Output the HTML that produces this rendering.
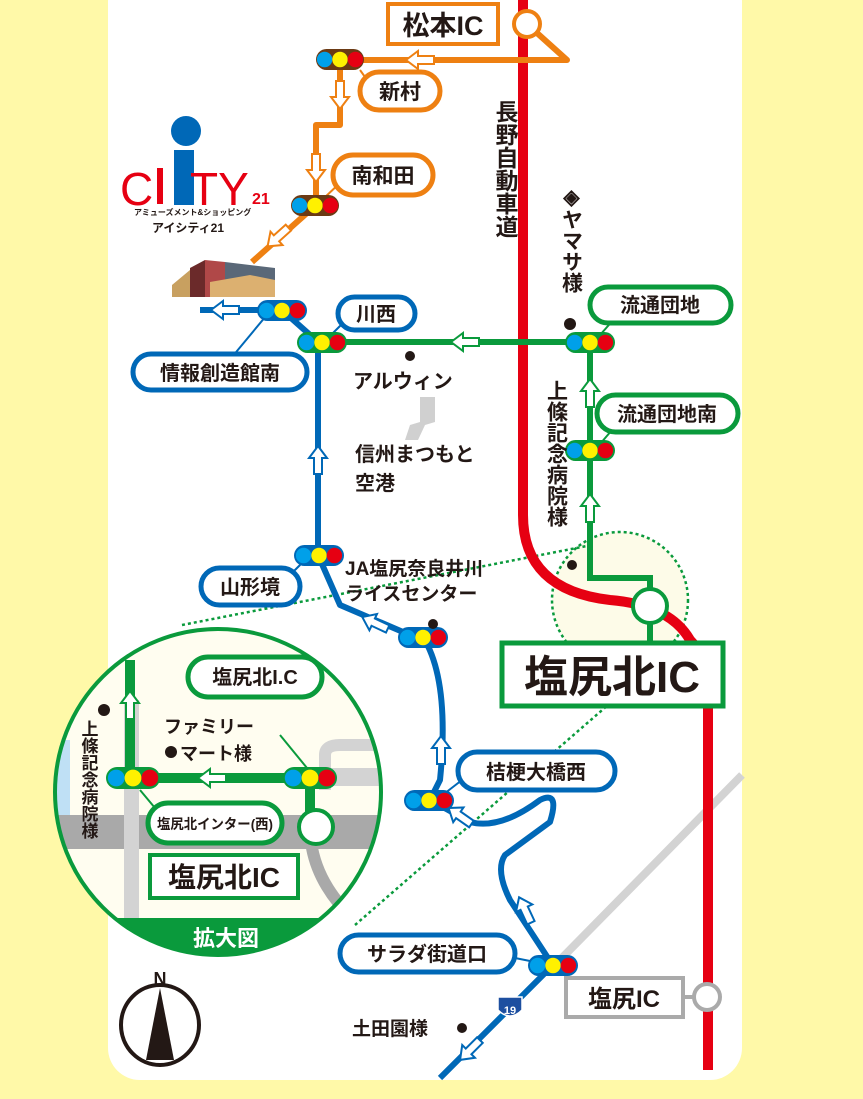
<!DOCTYPE html>
<html><head><meta charset="utf-8"><style>
html,body{margin:0;padding:0;background:#fff9a8;}
svg{display:block;}
text{font-family:"Liberation Sans","Noto Sans CJK JP",sans-serif;font-weight:bold;fill:#231815;}
</style></head><body>
<svg width="863" height="1099" viewBox="0 0 863 1099" xmlns="http://www.w3.org/2000/svg">
<defs>
<g id="sig"><circle cx="-14" cy="0" r="7" fill="#00a0e9"/><circle cx="0" cy="0" r="7" fill="#fff100"/><circle cx="14" cy="0" r="7" fill="#e60012"/></g>
<g id="arrL"><polygon points="-14,0 -2,-9 -2,-4 14,-4 14,4 -2,4 -2,9" fill="#fff" stroke-width="2"/></g>
</defs>
<rect x="0" y="0" width="863" height="1099" fill="#fff9a8"/>
<rect x="108" y="-30" width="634" height="1110" rx="32" fill="#fff"/>

<line x1="742" y1="775" x2="552" y2="968" stroke="#d3d3d3" stroke-width="8"/>

<circle cx="620" cy="600" r="68" fill="#fdfbe8" stroke="#0a9a3c" stroke-width="2.5" stroke-dasharray="3,3"/>
<line x1="182" y1="625" x2="592" y2="545" stroke="#0a9a3c" stroke-width="2.5" stroke-dasharray="3,3"/>
<line x1="355" y1="925" x2="608" y2="705" stroke="#0a9a3c" stroke-width="2.5" stroke-dasharray="3,3"/>

<path d="M523,0 L523,515 Q523,590 610,600 Q670,605 690,640 L708,660 L708,1070" fill="none" stroke="#e60012" stroke-width="10"/>

<g stroke="#ee8012" stroke-width="6" fill="none" stroke-linejoin="round">
<path d="M527,24 L567,60 L326,60"/>
<path d="M340,66 L340,125 L316,125 L316,205 L252,262"/>
<line x1="360" y1="70" x2="370" y2="84" stroke-width="2"/>
<line x1="322" y1="200" x2="343" y2="180" stroke-width="2"/>
</g>
<circle cx="527" cy="24" r="13" fill="#fff" stroke="#ee8012" stroke-width="4"/>
<use href="#arrL" transform="translate(420,60)" stroke="#ee8012"/>
<use href="#arrL" transform="translate(340,95) rotate(-90)" stroke="#ee8012"/>
<use href="#arrL" transform="translate(316,168) rotate(-90)" stroke="#ee8012"/>
<use href="#arrL" transform="translate(278,237) rotate(-42)" stroke="#ee8012"/>
<rect x="316" y="49" width="48" height="21" rx="10.5" fill="#6b3a14"/><use href="#sig" transform="translate(340,59.5) scale(1.1)"/>
<rect x="291" y="195" width="48" height="21" rx="10.5" fill="#6b3a14"/><use href="#sig" transform="translate(315,205.5) scale(1.1)"/>

<rect x="388" y="4" width="110" height="40" fill="#fff" stroke="#ee8012" stroke-width="4"/>
<text x="443" y="35" font-size="27" text-anchor="middle">松本IC</text>
<rect x="360" y="72" width="80" height="38" rx="19" fill="#fff" stroke="#ee8012" stroke-width="5"/>
<text x="400" y="99" font-size="21" text-anchor="middle">新村</text>
<rect x="333" y="155" width="100" height="40" rx="20" fill="#fff" stroke="#ee8012" stroke-width="5"/>
<text x="383" y="183" font-size="21" text-anchor="middle">南和田</text>

<circle cx="186" cy="131" r="15" fill="#0068b7"/>
<text x="120" y="205" font-size="46" style="fill:#e60012;font-weight:normal" textLength="30">C</text>
<rect x="157" y="168" width="6" height="36" fill="#e60012"/>
<rect x="174" y="150" width="20" height="55" fill="#0068b7"/>
<text x="190" y="205" font-size="46" style="fill:#e60012;font-weight:normal">TY</text>
<text x="252" y="204" font-size="16" style="fill:#e60012">21</text>
<text x="134" y="215" font-size="8">アミューズメント&amp;ショッピング</text>
<text x="152" y="232" font-size="12">アイシティ21</text>
<polygon points="172,285 190,270 200,270 200,297 172,297" fill="#c8a060"/>
<polygon points="190,268 205,260 210,297 190,297" fill="#6b2a2a"/>
<polygon points="205,260 225,262 225,297 205,297" fill="#b04848"/>
<polygon points="225,262 275,268 275,280 225,282" fill="#5a6878"/>
<polygon points="210,282 250,275 275,280 275,297 210,297" fill="#dcb070"/>

<g stroke="#0068b7" stroke-width="6" fill="none" stroke-linejoin="round">
<path d="M200,310 L282,310 L318,342 L318,555 L340,605 L410,635 L423,637 Q450,680 440,780 L430,800 L470,822 Q500,830 540,800 Q560,790 550,822 L505,855 Q495,870 510,900 L548,958 L553,965 L440,1078"/>
<line x1="266" y1="316" x2="232" y2="357" stroke-width="2"/>
<line x1="330" y1="336" x2="348" y2="318" stroke-width="2"/>
<line x1="305" y1="560" x2="290" y2="575" stroke-width="2"/>
<line x1="440" y1="797" x2="462" y2="780" stroke-width="2"/>
<line x1="515" y1="958" x2="540" y2="963" stroke-width="2"/>
</g>
<use href="#arrL" transform="translate(225,310)" stroke="#0068b7"/>
<use href="#arrL" transform="translate(318,460) rotate(90)" stroke="#0068b7"/>
<use href="#arrL" transform="translate(375,623) rotate(25)" stroke="#0068b7"/>
<use href="#arrL" transform="translate(441,750) rotate(90)" stroke="#0068b7"/>
<use href="#arrL" transform="translate(460,816) rotate(35)" stroke="#0068b7"/>
<use href="#arrL" transform="translate(525,910) rotate(65)" stroke="#0068b7"/>
<use href="#arrL" transform="translate(470,1050) rotate(-45)" stroke="#0068b7"/>
<rect x="257" y="300" width="50" height="21" rx="10.5" fill="#0068b7"/><use href="#sig" transform="translate(282,310.5) scale(1.1)"/>
<rect x="294" y="545" width="50" height="21" rx="10.5" fill="#0068b7"/><use href="#sig" transform="translate(319,555.5) scale(1.1)"/>
<rect x="398" y="627" width="50" height="21" rx="10.5" fill="#0068b7"/><use href="#sig" transform="translate(423,637.5) scale(1.1)"/>
<rect x="404" y="790" width="50" height="21" rx="10.5" fill="#0068b7"/><use href="#sig" transform="translate(429,800.5) scale(1.1)"/>
<rect x="528" y="955" width="50" height="21" rx="10.5" fill="#0068b7"/><use href="#sig" transform="translate(553,965.5) scale(1.1)"/>
<path d="M498,997 L522,997 L522,1010 Q510,1022 498,1010 Z" fill="#1d4fa0" stroke="#fff" stroke-width="1.5"/>
<text x="510" y="1014" font-size="11" text-anchor="middle" style="fill:#fff">19</text>

<g stroke="#0a9a3c" stroke-width="6" fill="none">
<path d="M322,342 L590,342 L590,578 L650,578 L650,590"/>
<line x1="650" y1="622" x2="650" y2="642"/>
<line x1="600" y1="335" x2="615" y2="318" stroke-width="2"/>
<line x1="600" y1="444" x2="612" y2="430" stroke-width="2"/>
</g>
<use href="#arrL" transform="translate(465,342)" stroke="#0a9a3c"/>
<use href="#arrL" transform="translate(590,393) rotate(90)" stroke="#0a9a3c"/>
<use href="#arrL" transform="translate(590,508) rotate(90)" stroke="#0a9a3c"/>
<circle cx="650" cy="606" r="17" fill="#fff" stroke="#0a9a3c" stroke-width="4"/>
<rect x="565" y="332" width="50" height="21" rx="10.5" fill="#0a9a3c"/><use href="#sig" transform="translate(590,342.5) scale(1.1)"/>
<rect x="297" y="332" width="50" height="21" rx="10.5" fill="#0a9a3c"/><use href="#sig" transform="translate(322,342.5) scale(1.1)"/>
<rect x="565" y="440" width="50" height="21" rx="10.5" fill="#0a9a3c"/><use href="#sig" transform="translate(590,450.5) scale(1.1)"/>

<rect x="338" y="297" width="77" height="33" rx="16.5" fill="#fff" stroke="#0068b7" stroke-width="5"/>
<text x="376" y="321" font-size="20" text-anchor="middle">川西</text>
<rect x="133" y="354" width="174" height="36" rx="18" fill="#fff" stroke="#0068b7" stroke-width="5"/>
<text x="220" y="380" font-size="20" text-anchor="middle">情報創造館南</text>
<rect x="201" y="568" width="99" height="37" rx="18.5" fill="#fff" stroke="#0068b7" stroke-width="5"/>
<text x="250" y="594" font-size="20" text-anchor="middle">山形境</text>
<rect x="458" y="752" width="157" height="38" rx="19" fill="#fff" stroke="#0068b7" stroke-width="5"/>
<text x="536" y="779" font-size="20" text-anchor="middle">桔梗大橋西</text>
<rect x="340" y="935" width="175" height="37" rx="18.5" fill="#fff" stroke="#0068b7" stroke-width="5"/>
<text x="427" y="961" font-size="20" text-anchor="middle">サラダ街道口</text>

<rect x="590" y="287" width="141" height="36" rx="18" fill="#fff" stroke="#0a9a3c" stroke-width="5"/>
<text x="660" y="312" font-size="20" text-anchor="middle">流通団地</text>
<rect x="597" y="395" width="141" height="37" rx="18.5" fill="#fff" stroke="#0a9a3c" stroke-width="5"/>
<text x="667" y="421" font-size="20" text-anchor="middle">流通団地南</text>
<rect x="502" y="643" width="221" height="63" fill="#fff" stroke="#0a9a3c" stroke-width="5"/>
<text x="612" y="692" font-size="44" text-anchor="middle">塩尻北IC</text>

<line x1="683" y1="997" x2="694" y2="997" stroke="#aaa" stroke-width="4"/>
<rect x="566" y="978" width="117" height="39" fill="#fff" stroke="#aaa" stroke-width="4"/>
<text x="624" y="1007" font-size="24" text-anchor="middle">塩尻IC</text>
<circle cx="707" cy="997" r="13" fill="#fff" stroke="#aaa" stroke-width="4"/>

<text font-size="23" writing-mode="tb" x="505" y="100">長野自動車道</text>
<text font-size="21" writing-mode="tb" x="571" y="185">◈ヤマサ様</text>
<circle cx="570" cy="324" r="6" fill="#231815"/>
<text font-size="21" writing-mode="tb" x="556" y="380">上條記念病院様</text>
<circle cx="572" cy="565" r="5" fill="#231815"/>

<circle cx="410" cy="356" r="5" fill="#231815"/>
<text x="353" y="388" font-size="20">アルウィン</text>
<polygon points="420,397 435,397 435,422 425,425 418,440 405,440 410,425 420,422" fill="#d0d0d0"/>
<text x="355" y="461" font-size="20">信州まつもと</text>
<text x="355" y="490" font-size="20">空港</text>
<text x="345" y="575" font-size="19">JA塩尻奈良井川</text>
<text x="345" y="600" font-size="19">ライスセンター</text>
<circle cx="433" cy="624" r="5" fill="#231815"/>
<text x="352" y="1035" font-size="19">土田園様</text>
<circle cx="462" cy="1028" r="5" fill="#231815"/>

<clipPath id="ic"><circle cx="218" cy="792" r="163"/></clipPath>
<g clip-path="url(#ic)">
<rect x="50" y="620" width="340" height="350" fill="#fffdf0"/>
<rect x="50" y="740" width="20" height="80" fill="#bfe0f5"/>
<rect x="50" y="815" width="340" height="34" fill="#a9a9a9"/>
<rect x="124" y="700" width="15" height="220" fill="#d3d3d3"/>
<path d="M325,790 L325,755 Q325,745 340,745 L390,745" fill="none" stroke="#d3d3d3" stroke-width="12"/>
<rect x="320" y="768" width="70" height="18" fill="#d3d3d3"/>
<path d="M312,848 Q320,890 360,925" fill="none" stroke="#a9a9a9" stroke-width="12"/>
<rect x="50" y="918" width="340" height="60" fill="#0a9a3c"/>
<g stroke="#0a9a3c" stroke-width="10" fill="none"><path d="M130,660 L130,778 L310,778 L310,812"/></g>
<line x1="280" y1="735" x2="307" y2="768" stroke="#0a9a3c" stroke-width="2"/>
<line x1="140" y1="790" x2="155" y2="808" stroke="#0a9a3c" stroke-width="2"/>
<use href="#arrL" transform="translate(130,705) rotate(90)" stroke="#0a9a3c"/>
<use href="#arrL" transform="translate(212,778)" stroke="#0a9a3c"/>
<rect x="106" y="767" width="54" height="22" rx="11" fill="#0a9a3c"/><use href="#sig" transform="translate(133,778) scale(1.2)"/>
<rect x="283" y="767" width="54" height="22" rx="11" fill="#0a9a3c"/><use href="#sig" transform="translate(310,778) scale(1.2)"/>
<circle cx="316" cy="827" r="17" fill="#fff" stroke="#0a9a3c" stroke-width="4"/>
<rect x="188" y="657" width="134" height="40" rx="20" fill="#fff" stroke="#0a9a3c" stroke-width="5"/>
<text x="255" y="684" font-size="20" text-anchor="middle">塩尻北I.C</text>
<rect x="148" y="803" width="134" height="40" rx="20" fill="#fff" stroke="#0a9a3c" stroke-width="5"/>
<text x="215" y="829" font-size="14" text-anchor="middle" textLength="116" lengthAdjust="spacingAndGlyphs">塩尻北インター(西)</text>
<rect x="150" y="855" width="148" height="43" fill="#fff" stroke="#0a9a3c" stroke-width="4"/>
<text x="224" y="887" font-size="28" text-anchor="middle">塩尻北IC</text>
<text x="164" y="733" font-size="18">ファミリー</text>
<circle cx="171" cy="752" r="6" fill="#231815"/>
<text x="180" y="760" font-size="18">マート様</text>
<circle cx="104" cy="710" r="6" fill="#231815"/>
<text font-size="17" writing-mode="tb" x="88" y="720">上條記念病院様</text>
<text x="226" y="946" font-size="22" text-anchor="middle" style="fill:#fff">拡大図</text>
</g>
<circle cx="218" cy="792" r="163" fill="none" stroke="#0a9a3c" stroke-width="4"/>

<ellipse cx="160" cy="1025" rx="39" ry="40" fill="#fff" stroke="#231815" stroke-width="4"/>
<polygon points="160,988 146,1060 174,1060" fill="#231815"/>
<text x="160" y="985" font-size="18" text-anchor="middle">N</text>
</svg>
</body></html>
